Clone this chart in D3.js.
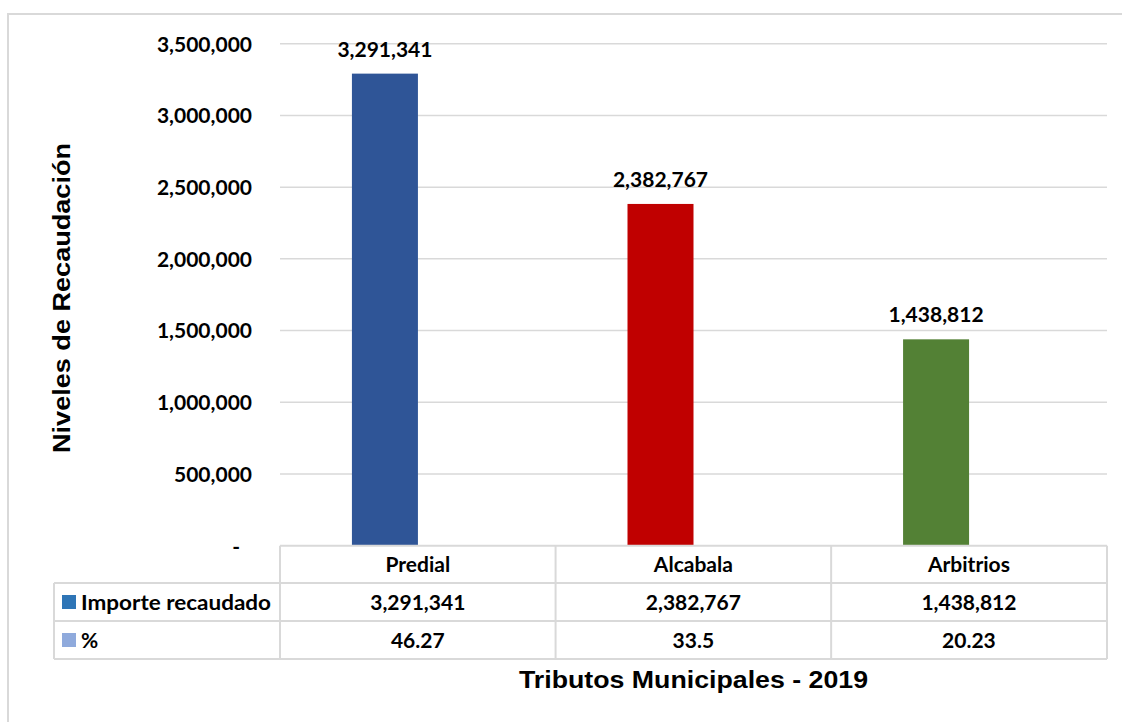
<!DOCTYPE html>
<html><head><meta charset="utf-8">
<script src="https://cdn.jsdelivr.net/npm/d3@7"></script>
<style>body{margin:0;background:#fff}svg{display:block}</style>
</head><body>
<svg id="c" width="1122" height="722"></svg>
<script>
const categories = ["Predial", "Alcabala", "Arbitrios"];
const seriesNames = ["Importe recaudado", "%"];
const importe = [3291341, 2382767, 1438812];
const porcentaje = [46.27, 33.5, 20.23];
const porcentajeLabels = ["46.27", "33.5", "20.23"];
const yTicks = [0, 500000, 1000000, 1500000, 2000000, 2500000, 3000000, 3500000];
const barColors = ["#2F5597", "#C00000", "#538135"];
const legendColors = ["#2E75B6", "#8FAADC"];

const svg = d3.select("#c");
const calibri = "Lato, 'Open Sans', sans-serif";
const arial = "'Liberation Sans', Arial, sans-serif";
const grid = "#D9D9D9";
const fs = 21;

// outer chart border
svg.append("path").attr("d", "M8,722 V14 H1122").attr("fill", "none").attr("stroke", grid).attr("stroke-width", 2);

const plotL = 280, plotR = 1107;
const y = d3.scaleLinear().domain([0, 3500000]).range([545.7, 43.7]);
const x = d3.scaleBand().domain(categories).range([plotL, plotR]).paddingInner(0.521).paddingOuter(0.261);
const xs = d3.scaleBand().domain(seriesNames).range([0, x.bandwidth()]);

// gridlines
svg.append("g").selectAll("line").data(yTicks.filter(d => d > 0)).join("line")
  .attr("x1", plotL).attr("x2", plotR).attr("y1", d => y(d)).attr("y2", d => y(d))
  .attr("stroke", grid).attr("stroke-width", 1.5);

// y axis labels
const fmt = d3.format(",");
const yAxis = d3.axisLeft(y).tickValues(yTicks).tickSize(0).tickPadding(0)
  .tickFormat(d => d === 0 ? "-" : fmt(d));
const gy = svg.append("g").attr("transform", "translate(252,0)").call(yAxis);
gy.select(".domain").remove();
gy.selectAll("text").attr("font-family", calibri).attr("font-weight", 700).attr("font-size", fs).attr("fill", "#000")
  .attr("dy", "0.35em").attr("dx", d => d === 0 ? -12 : 0);

// bars
const rows = categories.map((c, i) => ({cat: c, i, vals: [importe[i], porcentaje[i]]}));
const g = svg.append("g").selectAll("g").data(rows).join("g").attr("transform", d => `translate(${x(d.cat)},0)`);
g.selectAll("rect").data(d => d.vals.map((v, k) => ({v, k, i: d.i}))).join("rect")
  .attr("x", d => xs(seriesNames[d.k])).attr("width", xs.bandwidth())
  .attr("y", d => y(d.v)).attr("height", d => y(0) - y(d.v))
  .attr("fill", d => d.k === 0 ? barColors[d.i] : legendColors[1]);

// data labels
svg.append("g").selectAll("text").data(rows).join("text")
  .attr("x", d => x(d.cat) + xs(seriesNames[0]) + xs.bandwidth() / 2)
  .attr("y", d => y(d.vals[0]) - 17)
  .attr("text-anchor", "middle").attr("font-family", calibri).attr("font-weight", 700).attr("font-size", fs)
  .text(d => fmt(d.vals[0]));

// data table
const rowTop = [545.7, 583, 621, 659];
const tableL = 54;
const step = x.step();
const colEdges = categories.map((c, i) => plotL + i * step).concat([plotR]);
const tg = svg.append("g").attr("stroke", grid).attr("stroke-width", 2).attr("fill", "none");
tg.append("line").attr("x1", plotL).attr("x2", plotR).attr("y1", rowTop[0]).attr("y2", rowTop[0]);
[1, 2, 3].forEach(r => tg.append("line").attr("x1", tableL).attr("x2", plotR).attr("y1", rowTop[r]).attr("y2", rowTop[r]));
tg.append("line").attr("x1", tableL).attr("x2", tableL).attr("y1", rowTop[1]).attr("y2", rowTop[3]);
colEdges.forEach(cx => tg.append("line").attr("x1", cx).attr("x2", cx).attr("y1", rowTop[0]).attr("y2", rowTop[3]));

const tt = svg.append("g").attr("font-family", calibri).attr("font-weight", 700).attr("font-size", fs).attr("fill", "#000");
const colCenter = i => plotL + (i + 0.5) * step;
const rowMid = r => (rowTop[r] + rowTop[r + 1]) / 2;
tt.selectAll(".h").data(categories).join("text").attr("class", "h")
  .attr("x", (d, i) => colCenter(i)).attr("y", rowMid(0)).attr("dy", "0.36em").attr("text-anchor", "middle").text(d => d);
tt.selectAll(".v1").data(importe).join("text").attr("class", "v1")
  .attr("x", (d, i) => colCenter(i)).attr("y", rowMid(1)).attr("dy", "0.36em").attr("text-anchor", "middle").text(d => fmt(d));
tt.selectAll(".v2").data(porcentajeLabels).join("text").attr("class", "v2")
  .attr("x", (d, i) => colCenter(i)).attr("y", rowMid(2)).attr("dy", "0.36em").attr("text-anchor", "middle").text(d => d);
// legend keys in table
seriesNames.forEach((s, k) => {
  svg.append("rect").attr("x", 62).attr("y", rowMid(k + 1) - 7).attr("width", 14).attr("height", 14).attr("fill", legendColors[k]);
  const t = tt.append("text").attr("x", 81).attr("y", rowMid(k + 1)).attr("dy", "0.36em").text(s);
  if (k === 0) t.attr("textLength", 190).attr("lengthAdjust", "spacingAndGlyphs");
});

// axis titles
svg.append("text").attr("transform", "translate(70,298) rotate(-90)").attr("text-anchor", "middle")
  .attr("font-family", arial).attr("font-weight", 700).attr("font-size", 23)
  .attr("textLength", 310).attr("lengthAdjust", "spacingAndGlyphs").text("Niveles de Recaudación");
svg.append("text").attr("x", 693.5).attr("y", 688).attr("text-anchor", "middle")
  .attr("font-family", arial).attr("font-weight", 700).attr("font-size", 23)
  .attr("textLength", 349).attr("lengthAdjust", "spacingAndGlyphs").text("Tributos Municipales - 2019");
</script>
</body></html>
